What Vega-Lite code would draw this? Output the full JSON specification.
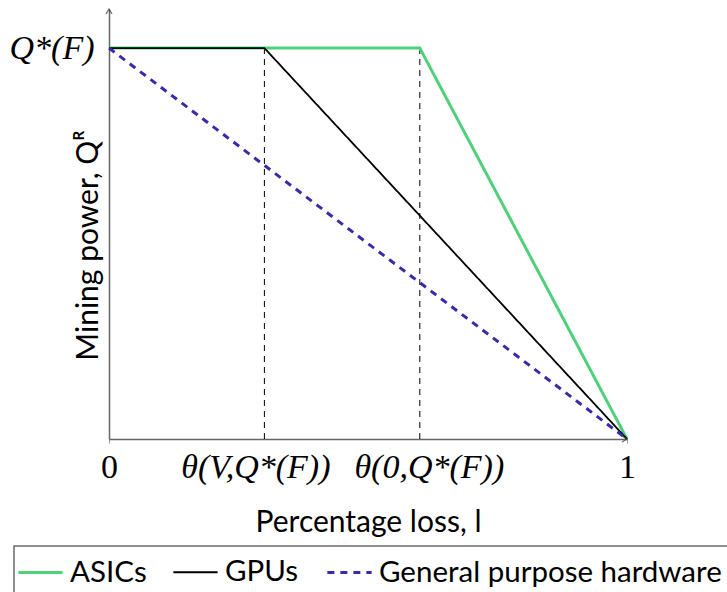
{
  "$schema": "https://vega.github.io/schema/vega-lite/v6.json",
  "autosize": "none",
  "width": 518,
  "height": 430,
  "padding": {"left": 109, "top": 9, "right": 100, "bottom": 153},
  "background": "white",
  "config": {
    "view": {"stroke": null},
    "legend": {
      "orient": "none",
      "legendX": -95,
      "legendY": 537,
      "direction": "horizontal",
      "columns": 3,
      "strokeColor": "#6b6b6b",
      "strokeWidth": 1.5,
      "padding": 10,
      "symbolType": "M-1.5,0H1.5",
      "symbolSize": 870,
      "labelFont": "Lato",
      "labelFontSize": 29.5,
      "labelColor": "black",
      "labelLimit": 0,
      "labelOffset": 13,
      "columnPadding": 22,
      "title": null
    }
  },
  "datasets": {
    "curves": [
      {"series": "ASICs", "l": 0, "q": 1},
      {"series": "ASICs", "l": 0.6, "q": 1},
      {"series": "ASICs", "l": 1, "q": 0},
      {"series": "GPUs", "l": 0, "q": 1},
      {"series": "GPUs", "l": 0.3, "q": 1},
      {"series": "GPUs", "l": 1, "q": 0},
      {"series": "General purpose hardware", "l": 0, "q": 1},
      {"series": "General purpose hardware", "l": 1, "q": 0}
    ],
    "thresholds": [
      {"l": 0.3, "q0": 0, "q1": 1},
      {"l": 0.6, "q0": 0, "q1": 1}
    ],
    "arrows": [
      {"l": 1, "q": 0, "dir": "x"},
      {"l": 0, "q": 1.1, "dir": "y"}
    ]
  },
  "layer": [
    {
      "data": {"name": "thresholds"},
      "mark": {"type": "rule", "color": "black", "strokeWidth": 1, "strokeDash": [6, 5]},
      "encoding": {
        "x": {
          "field": "l",
          "type": "quantitative",
          "scale": {"domain": [0, 1], "nice": false, "zero": false},
          "axis": {
            "values": [0, 0.3, 0.6, 1],
            "labelExpr": "datum.value == 0 ? '0' : datum.value == 1 ? '1' : datum.value == 0.3 ? 'θ(V,Q*(F))' : 'θ(0,Q*(F))'",
            "labelFont": "Liberation Serif",
            "labelFontSize": 34,
            "labelColor": "black",
            "labelFontStyle": {"condition": {"test": "datum.value == 0.3 || datum.value == 0.6", "value": "italic"}, "value": "normal"},
            "labelOffset": {"condition": [{"test": "datum.value == 0.3", "value": -9}, {"test": "datum.value == 0.6", "value": 9}], "value": 0},
            "labelFlush": false,
            "labelOverlap": false,
            "labelPadding": 7,
            "labelBaseline": "top",
            "grid": false,
            "domainColor": "#666666",
            "domainWidth": 1.5,
            "tickColor": "#999999",
            "tickSize": 4,
            "tickWidth": 1,
            "tickOpacity": {"condition": {"test": "datum.value == 0.3 || datum.value == 0.6", "value": 0}, "value": 1},
            "title": "Percentage loss, l",
            "titleFont": "Lato",
            "titleFontSize": 30,
            "titleFontWeight": "normal",
            "titleColor": "black",
            "titleBaseline": "alphabetic",
            "titleY": 92
          }
        },
        "y": {
          "field": "q0",
          "type": "quantitative",
          "scale": {"domain": [0, 1.1], "nice": false},
          "axis": {
            "values": [1],
            "labelExpr": "'Q*(F)'",
            "labelFont": "Liberation Serif",
            "labelFontSize": 34,
            "labelFontStyle": "italic",
            "labelColor": "black",
            "labelPadding": 15,
            "ticks": false,
            "grid": false,
            "domainColor": "#666666",
            "domainWidth": 1.5,
            "title": "Mining power, Qᴿ",
            "titleFont": "Lato",
            "titleFontSize": 30,
            "titleFontWeight": "normal",
            "titleColor": "black",
            "titleAngle": -90,
            "titleBaseline": "alphabetic",
            "titleAlign": "center",
            "titleX": -12,
            "titleY": 236
          }
        },
        "y2": {"field": "q1"}
      }
    },
    {
      "data": {"name": "curves"},
      "mark": {"type": "line", "strokeCap": "butt", "strokeJoin": "miter"},
      "encoding": {
        "x": {"field": "l", "type": "quantitative"},
        "y": {"field": "q", "type": "quantitative"},
        "color": {
          "field": "series",
          "type": "nominal",
          "sort": null,
          "scale": {"domain": ["ASICs", "GPUs", "General purpose hardware"], "range": ["#4fd07a", "#000000", "#3a2aaa"]}
        },
        "strokeDash": {
          "field": "series",
          "type": "nominal",
          "sort": null,
          "scale": {"domain": ["ASICs", "GPUs", "General purpose hardware"], "range": [[1, 0], [1, 0], [7, 6]]}
        },
        "strokeWidth": {
          "field": "series",
          "type": "nominal",
          "sort": null,
          "scale": {"type": "ordinal", "domain": ["ASICs", "GPUs", "General purpose hardware"], "range": [3, 1.8, 3]}
        }
      }
    },
    {
      "data": {"name": "arrows"},
      "mark": {"type": "point", "filled": false, "color": "#333333", "strokeWidth": 1.3, "size": 100},
      "encoding": {
        "x": {"field": "l", "type": "quantitative"},
        "y": {"field": "q", "type": "quantitative"},
        "shape": {
          "field": "dir",
          "type": "nominal",
          "scale": {"domain": ["x", "y"], "range": ["M-1,-0.6L0,0L-1,0.6", "M-0.6,1L0,0L0.6,1"]},
          "legend": null
        }
      }
    }
  ]
}
